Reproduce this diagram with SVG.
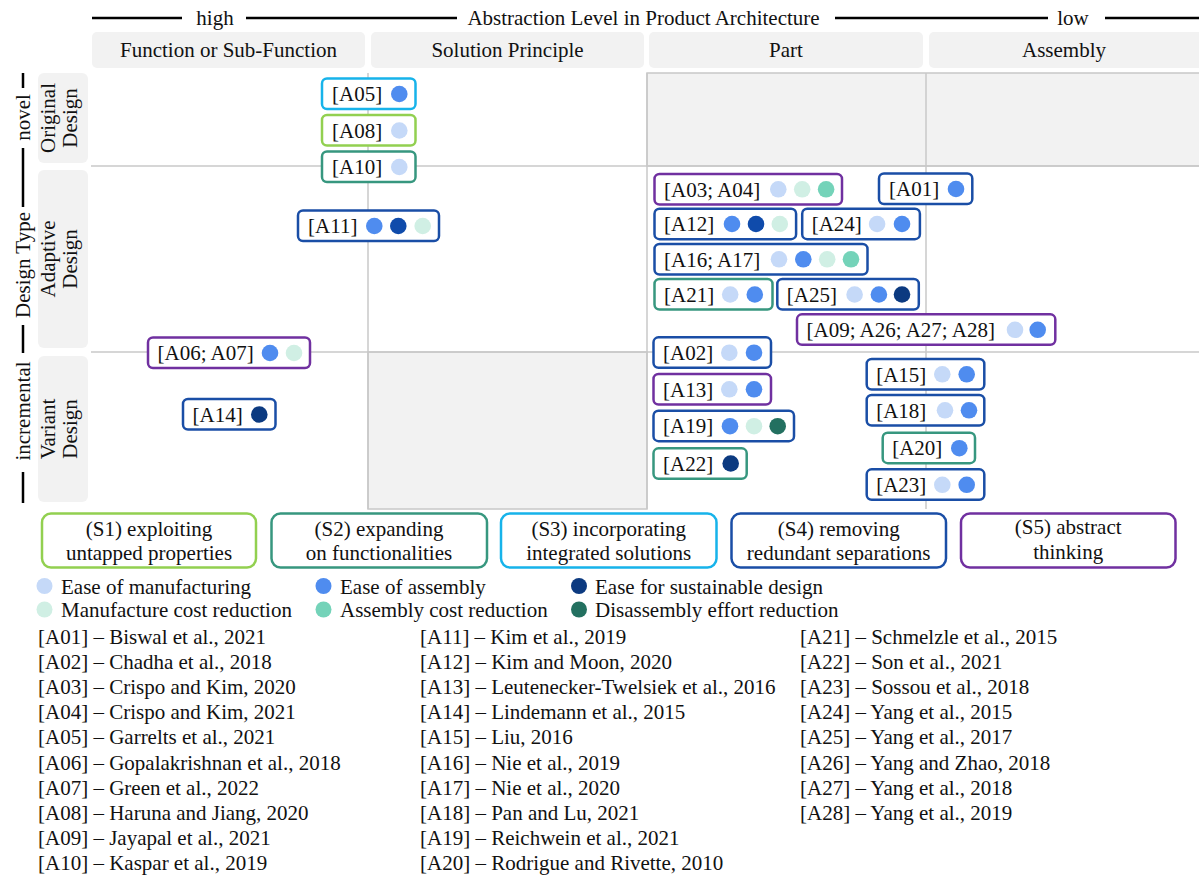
<svg xmlns="http://www.w3.org/2000/svg" width="1199" height="875" viewBox="0 0 1199 875">
<style>
text{font-family:"Liberation Serif","Times New Roman",serif;font-size:21px;fill:#111}
.hdr{fill:#f2f2f2}
.grid{stroke:#c8c8c8;stroke-width:1.5;fill:none}
.greyc{fill:#f2f2f2;stroke:#c8c8c8;stroke-width:1.5}
.axis{stroke:#000;stroke-width:2.5}
.nd{fill:#fff;stroke-width:2.5}
.s1{stroke:#92d050}.s2{stroke:#37977f}.s3{stroke:#17b3ea}.s4{stroke:#1a4ea6}.s5{stroke:#7030a0}
.c1{fill:#c5d9f8}.c2{fill:#4f8cef}.c3{fill:#0c3a80}.c3b{fill:#0f4bab}.c4{fill:#d0efe4}.c5{fill:#74d3b9}.c6{fill:#237060}
.mid{text-anchor:middle}
</style>

<!-- top axis -->
<g id="top-axis">
<line class="axis" x1="92" y1="18" x2="182" y2="18"/>
<text class="mid" x="215" y="25">high</text>
<line class="axis" x1="246" y1="18" x2="457" y2="18"/>
<text class="mid" x="643.5" y="25">Abstraction Level in Product Architecture</text>
<line class="axis" x1="835" y1="18" x2="1048" y2="18"/>
<text class="mid" x="1073" y="25">low</text>
<line class="axis" x1="1105" y1="18" x2="1199" y2="18"/>
</g>

<!-- column headers -->
<g id="col-function"><rect class="hdr" x="92" y="32" width="273" height="36" rx="5"/><text class="mid" x="228.5" y="57">Function or Sub-Function</text></g>
<g id="col-solution"><rect class="hdr" x="371" y="32" width="273" height="36" rx="5"/><text class="mid" x="507.5" y="57">Solution Principle</text></g>
<g id="col-part"><rect class="hdr" x="649" y="32" width="274" height="36" rx="5"/><text class="mid" x="786" y="57">Part</text></g>
<g id="col-assembly"><rect class="hdr" x="929" y="32" width="275" height="36" rx="5"/><text class="mid" x="1064" y="57">Assembly</text></g>

<!-- left axis -->
<g id="left-axis">
<line class="axis" x1="23" y1="73" x2="23" y2="88"/>
<text class="mid" transform="translate(23,117.5) rotate(-90)" y="7">novel</text>
<line class="axis" x1="23" y1="148" x2="23" y2="207"/>
<text class="mid" transform="translate(23,265) rotate(-90)" y="7">Design Type</text>
<line class="axis" x1="23" y1="325" x2="23" y2="353"/>
<text class="mid" transform="translate(23,411) rotate(-90)" y="7">incremental</text>
<line class="axis" x1="23" y1="472" x2="23" y2="503"/>
</g>

<!-- row labels -->
<g id="row-original"><rect class="hdr" x="38" y="73" width="50" height="90" rx="6"/><text class="mid" transform="translate(63,118) rotate(-90)"><tspan x="0" y="-8">Original</tspan><tspan x="0" y="14">Design</tspan></text></g>
<g id="row-adaptive"><rect class="hdr" x="38" y="170" width="50" height="178" rx="6"/><text class="mid" transform="translate(63,259) rotate(-90)"><tspan x="0" y="-8">Adaptive</tspan><tspan x="0" y="14">Design</tspan></text></g>
<g id="row-variant"><rect class="hdr" x="38" y="356" width="50" height="146" rx="6"/><text class="mid" transform="translate(63,429) rotate(-90)"><tspan x="0" y="-8">Variant</tspan><tspan x="0" y="14">Design</tspan></text></g>

<!-- grid -->
<g id="grid">
<rect class="greyc" x="647" y="73" width="553" height="93"/>
<rect class="greyc" x="368" y="352" width="279" height="157"/>
<line class="grid" x1="368" y1="73" x2="368" y2="509"/>
<line class="grid" x1="647" y1="73" x2="647" y2="509"/>
<line class="grid" x1="926" y1="73" x2="926" y2="509"/>
<line class="grid" x1="91" y1="166" x2="1199" y2="166"/>
<line class="grid" x1="91" y1="352" x2="1199" y2="352"/>
</g>

<g id="connectors"/>

<!-- nodes -->
<g id="A05"><rect class="nd s3" x="322" y="78.5" width="93.5" height="30.5" rx="5"/><text x="332" y="101">[A05]</text><circle class="c2" cx="399.3" cy="94" r="8.3"/></g>
<g id="A08"><rect class="nd s1" x="322" y="115" width="93.5" height="30.5" rx="5"/><text x="332" y="137.5">[A08]</text><circle class="c1" cx="399.3" cy="130.5" r="8.3"/></g>
<g id="A10"><rect class="nd s2" x="322" y="151.5" width="93.5" height="30.5" rx="5"/><text x="332" y="174">[A10]</text><circle class="c1" cx="399.3" cy="167" r="8.3"/></g>
<g id="A11"><rect class="nd s4" x="298" y="210.5" width="141" height="30.5" rx="5"/><text x="308" y="233">[A11]</text><circle class="c2" cx="374.3" cy="226" r="8.3"/><circle class="c3b" cx="398.3" cy="226" r="8.3"/><circle class="c4" cx="422.7" cy="226" r="8.3"/></g>
<g id="A06_A07"><rect class="nd s5" x="148" y="337.5" width="162" height="30.5" rx="5"/><text x="157.5" y="360">[A06; A07]</text><circle class="c2" cx="270" cy="353" r="8.3"/><circle class="c4" cx="294" cy="353" r="8.3"/></g>
<g id="A14"><rect class="nd s4" x="183" y="399" width="92.5" height="30.5" rx="5"/><text x="192.5" y="421.5">[A14]</text><circle class="c3" cx="259.3" cy="414.5" r="8.3"/></g>
<g id="A03_A04"><rect class="nd s5" x="654.5" y="174" width="187.5" height="30.5" rx="5"/><text x="664" y="196.5">[A03; A04]</text><circle class="c1" cx="778.3" cy="189.3" r="8.3"/><circle class="c4" cx="802.2" cy="189.3" r="8.3"/><circle class="c5" cx="826.1" cy="189.3" r="8.3"/></g>
<g id="A01"><rect class="nd s4" x="879" y="173.5" width="93.3" height="30.5" rx="5"/><text x="889" y="196">[A01]</text><circle class="c2" cx="956" cy="189" r="8.3"/></g>
<g id="A12"><rect class="nd s4" x="654.5" y="208.7" width="141.6" height="30.5" rx="5"/><text x="664" y="231.2">[A12]</text><circle class="c2" cx="732" cy="224" r="8.3"/><circle class="c3b" cx="756" cy="224" r="8.3"/><circle class="c4" cx="779.8" cy="224" r="8.3"/></g>
<g id="A24"><rect class="nd s4" x="802.2" y="208.7" width="117.7" height="30.5" rx="5"/><text x="811.7" y="231.2">[A24]</text><circle class="c1" cx="877.1" cy="224" r="8.3"/><circle class="c2" cx="902" cy="224" r="8.3"/></g>
<g id="A16_A17"><rect class="nd s4" x="654.5" y="244" width="213" height="30.5" rx="5"/><text x="664" y="266.5">[A16; A17]</text><circle class="c1" cx="779" cy="259.3" r="8.3"/><circle class="c2" cx="803.3" cy="259.3" r="8.3"/><circle class="c4" cx="827.2" cy="259.3" r="8.3"/><circle class="c5" cx="851" cy="259.3" r="8.3"/></g>
<g id="A21"><rect class="nd s2" x="654.5" y="279" width="118" height="30.5" rx="5"/><text x="664" y="301.5">[A21]</text><circle class="c1" cx="730.2" cy="294.5" r="8.3"/><circle class="c2" cx="754.8" cy="294.5" r="8.3"/></g>
<g id="A25"><rect class="nd s4" x="777.3" y="279" width="141.5" height="30.5" rx="5"/><text x="786.8" y="301.5">[A25]</text><circle class="c1" cx="854.6" cy="294.5" r="8.3"/><circle class="c2" cx="878.9" cy="294.5" r="8.3"/><circle class="c3" cx="902" cy="294.5" r="8.3"/></g>
<g id="A09_A26_A27_A28"><rect class="nd s5" x="797" y="314.3" width="258.3" height="30.5" rx="5"/><text x="806.5" y="336.8">[A09; A26; A27; A28]</text><circle class="c1" cx="1015" cy="329.8" r="8.3"/><circle class="c2" cx="1037.7" cy="329.8" r="8.3"/></g>
<g id="A02"><rect class="nd s4" x="653.5" y="337.3" width="117.5" height="30.5" rx="5"/><text x="663" y="359.8">[A02]</text><circle class="c1" cx="729.3" cy="352.7" r="8.3"/><circle class="c2" cx="754" cy="352.7" r="8.3"/></g>
<g id="A13"><rect class="nd s5" x="653.5" y="374" width="117.5" height="30.5" rx="5"/><text x="663" y="396.5">[A13]</text><circle class="c1" cx="729.3" cy="389.3" r="8.3"/><circle class="c2" cx="754" cy="389.3" r="8.3"/></g>
<g id="A19"><rect class="nd s4" x="653.5" y="410.7" width="140.5" height="30.5" rx="5"/><text x="663" y="433.2">[A19]</text><circle class="c2" cx="730" cy="426.2" r="8.3"/><circle class="c4" cx="754" cy="426.2" r="8.3"/><circle class="c6" cx="777.7" cy="426.2" r="8.3"/></g>
<g id="A22"><rect class="nd s2" x="653.5" y="448.3" width="93.2" height="30.5" rx="5"/><text x="663" y="470.8">[A22]</text><circle class="c3" cx="730.7" cy="463.5" r="8.3"/></g>
<g id="A15"><rect class="nd s4" x="866.7" y="359" width="117.6" height="30.5" rx="5"/><text x="876.2" y="381.5">[A15]</text><circle class="c1" cx="942.3" cy="374.3" r="8.3"/><circle class="c2" cx="966.7" cy="374.3" r="8.3"/></g>
<g id="A18"><rect class="nd s4" x="866.7" y="395" width="117.6" height="30.5" rx="5"/><text x="876.2" y="417.5">[A18]</text><circle class="c1" cx="945" cy="410.3" r="8.3"/><circle class="c2" cx="969" cy="410.3" r="8.3"/></g>
<g id="A20"><rect class="nd s2" x="882.7" y="432.7" width="92.3" height="30.5" rx="5"/><text x="892.2" y="455.2">[A20]</text><circle class="c2" cx="959.3" cy="448.2" r="8.3"/></g>
<g id="A23"><rect class="nd s4" x="866.7" y="469.3" width="117.6" height="30.5" rx="5"/><text x="876.2" y="491.8">[A23]</text><circle class="c1" cx="942.3" cy="484.8" r="8.3"/><circle class="c2" cx="966.7" cy="484.8" r="8.3"/></g>

<!-- strategies -->
<g id="S1"><rect class="nd s1" x="42" y="513.5" width="214" height="54" rx="9"/><text class="mid" x="149" y="535.5">(S1) exploiting</text><text class="mid" x="149" y="559.5">untapped properties</text></g>
<g id="S2"><rect class="nd s2" x="271.5" y="513.5" width="215.5" height="54" rx="9"/><text class="mid" x="379" y="535.5">(S2) expanding</text><text class="mid" x="379" y="559.5">on functionalities</text></g>
<g id="S3"><rect class="nd s3" x="501" y="513.5" width="215.5" height="54" rx="9"/><text class="mid" x="608.7" y="535.5">(S3) incorporating</text><text class="mid" x="608.7" y="559.5">integrated solutions</text></g>
<g id="S4"><rect class="nd s4" x="731.5" y="513.5" width="214.5" height="54" rx="9"/><text class="mid" x="838.7" y="535.5">(S4) removing</text><text class="mid" x="838.7" y="559.5">redundant separations</text></g>
<g id="S5"><rect class="nd s5" x="961" y="513.5" width="214.5" height="54" rx="9"/><text class="mid" x="1068.2" y="534">(S5) abstract</text><text class="mid" x="1068.2" y="558.5">thinking</text></g>

<!-- legend -->
<g id="legend">
<circle class="c1" cx="44.5" cy="586" r="8"/><text x="61" y="593.5">Ease of manufacturing</text>
<circle class="c2" cx="323.5" cy="586" r="8"/><text x="340" y="593.5">Ease of assembly</text>
<circle class="c3" cx="579" cy="586" r="8"/><text x="595" y="593.5">Ease for sustainable design</text>
<circle class="c4" cx="44.5" cy="609.5" r="8"/><text x="61" y="617">Manufacture cost reduction</text>
<circle class="c5" cx="323.5" cy="609.5" r="8"/><text x="340" y="617">Assembly cost  reduction</text>
<circle class="c6" cx="579" cy="609.5" r="8"/><text x="595" y="617">Disassembly effort reduction</text>
</g>

<!-- references -->
<g id="references">
<text x="38" y="643.5">[A01] – Biswal et al., 2021</text>
<text x="38" y="668.7">[A02] – Chadha et al., 2018</text>
<text x="38" y="693.9">[A03] – Crispo and Kim, 2020</text>
<text x="38" y="719.1">[A04] – Crispo and Kim, 2021</text>
<text x="38" y="744.3">[A05] – Garrelts et al., 2021</text>
<text x="38" y="769.5">[A06] – Gopalakrishnan et al., 2018</text>
<text x="38" y="794.7">[A07] – Green et al., 2022</text>
<text x="38" y="819.9">[A08] – Haruna and Jiang, 2020</text>
<text x="38" y="845.1">[A09] – Jayapal et al., 2021</text>
<text x="38" y="870.3">[A10] – Kaspar et al., 2019</text>
<text x="420" y="643.5">[A11] – Kim et al., 2019</text>
<text x="420" y="668.7">[A12] – Kim and Moon, 2020</text>
<text x="420" y="693.9">[A13] – Leutenecker-Twelsiek  et al., 2016</text>
<text x="420" y="719.1">[A14] – Lindemann et al., 2015</text>
<text x="420" y="744.3">[A15] – Liu, 2016</text>
<text x="420" y="769.5">[A16] – Nie et al., 2019</text>
<text x="420" y="794.7">[A17] – Nie et al., 2020</text>
<text x="420" y="819.9">[A18] – Pan and Lu, 2021</text>
<text x="420" y="845.1">[A19] – Reichwein et al., 2021</text>
<text x="420" y="870.3">[A20] – Rodrigue and Rivette, 2010</text>
<text x="800" y="643.5">[A21] – Schmelzle et al., 2015</text>
<text x="800" y="668.7">[A22] – Son et al., 2021</text>
<text x="800" y="693.9">[A23] – Sossou et al., 2018</text>
<text x="800" y="719.1">[A24] – Yang et al., 2015</text>
<text x="800" y="744.3">[A25] – Yang et al., 2017</text>
<text x="800" y="769.5">[A26] – Yang and Zhao, 2018</text>
<text x="800" y="794.7">[A27] – Yang et al.,  2018</text>
<text x="800" y="819.9">[A28] – Yang et al., 2019</text>
</g>
</svg>
